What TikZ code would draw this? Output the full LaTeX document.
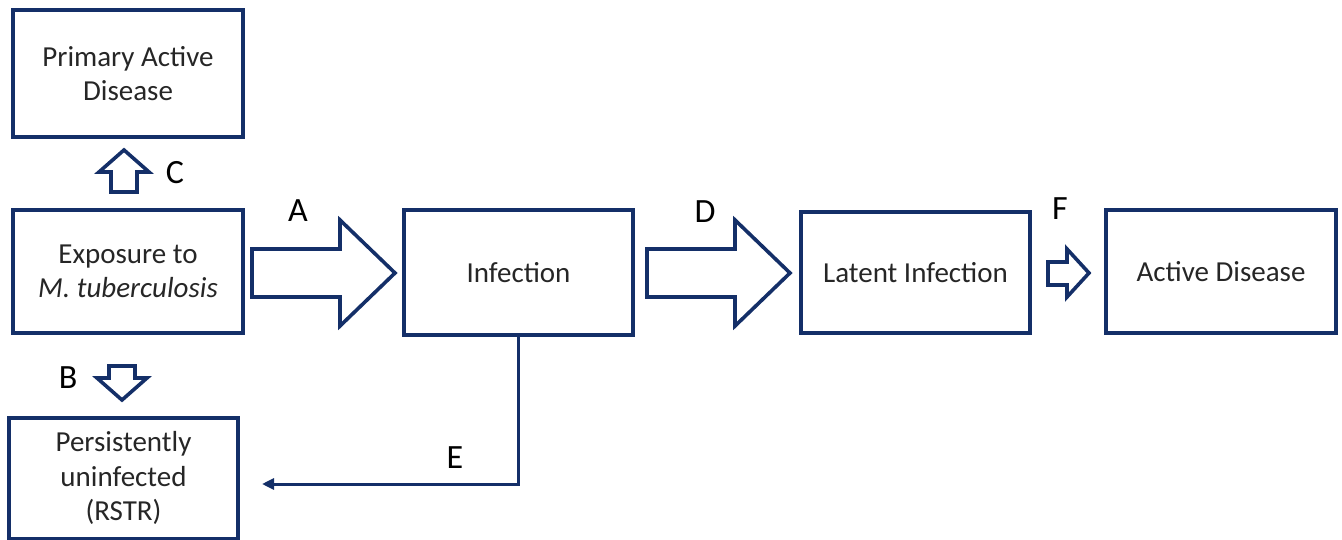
\documentclass[tikz,border=0pt]{standalone}
\usepackage{fontspec}
\setmainfont{Carlito}
\usetikzlibrary{arrows.meta}
\definecolor{navy}{HTML}{142F68}
\begin{document}
\begin{tikzpicture}[x=1pt,y=-1pt,
  box/.style={draw=navy,line width=4pt,inner sep=0pt,align=center,text=black!85,
    font=\fontsize{29}{34.5}\selectfont},
  blockarrow/.style={draw=navy,line width=3.6pt,line join=miter,fill=white},
  lbl/.style={font=\fontsize{34}{40}\selectfont,inner sep=0pt}]
\useasboundingbox (0,0) rectangle (1342,540);
% boxes
\node[box,minimum width=230pt,minimum height=127pt] (pad) at (128,73.5) {Primary Active\\Disease};
\node[box,minimum width=230pt,minimum height=123pt] (exp) at (128,271.5) {Exposure to\\\textit{M. tuberculosis}};
\node[box,minimum width=229pt,minimum height=121pt] (pu) at (123.5,478) {Persistently\\uninfected\\(RSTR)};
\node[box,minimum width=229pt,minimum height=125pt] (inf) at (518.5,272.5) {Infection};
\node[box,minimum width=229pt,minimum height=121pt] (lat) at (915.5,272.5) {Latent Infection};
\node[box,minimum width=230pt,minimum height=123pt] (act) at (1221,271.5) {Active Disease};
% block arrow A
\draw[blockarrow] (252,249) -- (340,249) -- (340,220) -- (395,273) -- (340,326) -- (340,297) -- (252,297) -- cycle;
% block arrow D
\draw[blockarrow] (647,249) -- (735,249) -- (735,220) -- (790,273) -- (735,326) -- (735,297) -- (647,297) -- cycle;
% block arrow F
\draw[blockarrow] (1048,262) -- (1067,262) -- (1067,249) -- (1089,273) -- (1067,297) -- (1067,285) -- (1048,285) -- cycle;
% block arrow C (up)
\draw[blockarrow] (111,192) -- (111,172) -- (99,172) -- (124,150) -- (149,172) -- (137,172) -- (137,192) -- cycle;
% block arrow B (down)
\draw[blockarrow] (109,366) -- (109,378) -- (97,378) -- (122,400) -- (147,378) -- (135,378) -- (135,366) -- cycle;
% connector E
\coordinate (eend) at (262,484);
\draw[navy,line width=3pt,-{Triangle[length=12pt,width=11pt]}] (inf.south) |- (eend);
% labels
\node[lbl] (la) at (298,211) {A};
\node[lbl] (lc) at (175,173) {C};
\node[lbl] (lb) at (68,378) {B};
\node[lbl] (ld) at (705,212) {D};
\node[lbl] (le) at (455,458) {E};
\node[lbl] (lf) at (1060,209) {F};
\end{tikzpicture}
\end{document}
